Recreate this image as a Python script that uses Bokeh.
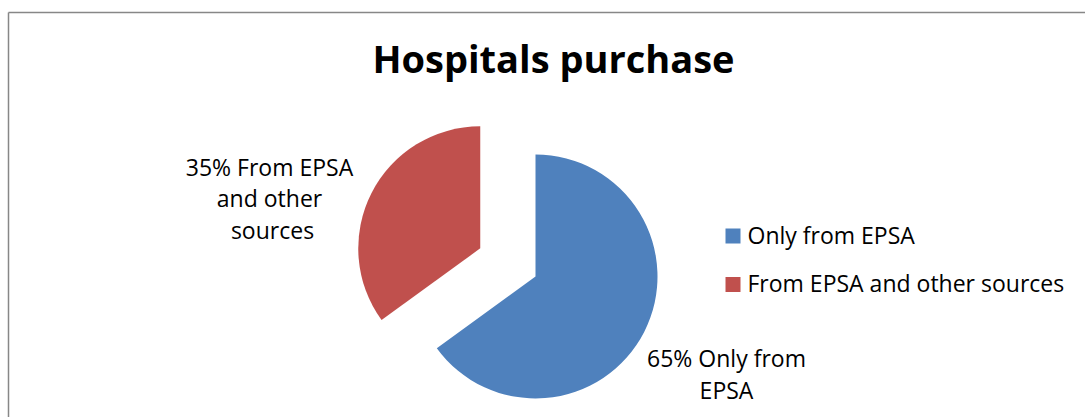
from bokeh.plotting import figure
from bokeh.models import Range1d
from bokeh.core.properties import value
from bokeh.embed import file_html
from bokeh.resources import INLINE
import math

# ---- data ----
categories = ["Only from EPSA", "From EPSA and other sources"]
shares = [65, 35]
colors = ["#4F81BD", "#C0504D"]
label_lines = [["65% Only from", "EPSA"], ["35% From  EPSA", "and  other", "sources"]]
title_text = "Hospitals purchase"

W, H = 1085, 417
FONT = "Open Sans"
BASE_FIX = 0.39  # empirical correction of the svg alphabetic baseline (em)

p = figure(width=W, height=H, output_backend="svg", toolbar_location=None,
           x_range=Range1d(0, W), y_range=Range1d(0, H), min_border=0)
p.axis.visible = False
p.grid.visible = False
p.outline_line_color = None
p.background_fill_color = "white"
p.border_fill_color = "white"

def sy(v):
    return H - v

def txt(x, y_base, t, size, align="center", bold=False):
    p.text(x=[x], y=[sy(y_base - BASE_FIX * size)], text=[t], text_font=value(FONT),
           text_font_style="bold" if bold else "normal",
           text_font_size=f"{size}px", text_align=align,
           text_baseline="alphabetic", text_color="black")

# chart border (top and left visible)
p.line([8, W], [sy(12), sy(12)], line_color="#878787", line_width=1.5)
p.line([8, 8], [sy(12), 0], line_color="#878787", line_width=1.5)

# pie
cx, cy, R = 535, sy(276), 122
explode = [0, 62]
total = sum(shares)
ang = math.pi / 2  # start at top, go clockwise
for i, s in enumerate(shares):
    sweep = 2 * math.pi * s / total
    a_end = ang
    a_start = ang - sweep
    mid = (a_start + a_end) / 2
    ox = cx + explode[i] * math.cos(mid)
    oy = cy + explode[i] * math.sin(mid)
    p.wedge(x=[ox], y=[oy], radius=R, start_angle=[a_start], end_angle=[a_end],
            direction="anticlock", fill_color=colors[i], line_color=None)
    ang = a_start

# title
txt(553, 72, title_text, 38, bold=True)

# data labels
label_pos = [(726, [366, 398]), (272, [175, 206.5, 238])]
for (lx, ys), lines in zip(label_pos, label_lines):
    for yy, t in zip(ys, lines):
        txt(lx, yy, t, 23)

# legend
leg_y = [243, 291.5]
for c, cat, yy in zip(colors, categories, leg_y):
    p.rect(x=[732.5], y=[sy(yy - 7.5)], width=15, height=15,
           fill_color=c, line_color=None)
    txt(747, yy, cat, 23, align="left")

open("out.html", "w").write(file_html(p, INLINE))
